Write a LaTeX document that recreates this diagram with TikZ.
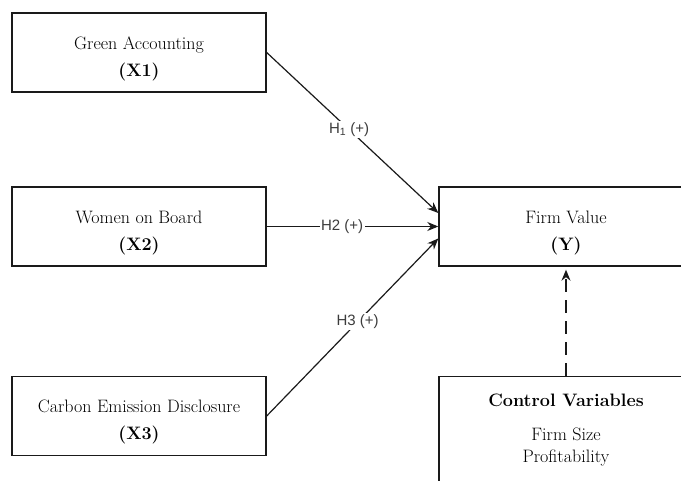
\documentclass[tikz,border=0pt]{standalone}
\usepackage{fontspec}
\newfontfamily\labfont{Liberation Sans}
\usetikzlibrary{arrows.meta}
\definecolor{ink}{HTML}{1A1A1A}
\newcommand{\topstrut}{\rule{0pt}{25pt}}
\begin{document}
\begin{tikzpicture}[x=1pt,y=-1pt,
  varbox/.style={draw=ink, line width=1.4pt, minimum width=254pt, minimum height=79pt,
    align=center, inner sep=0pt, text=black, font=\fontsize{18}{27}\selectfont},
  hyp/.style={draw=ink, line width=1.2pt, -{Stealth[length=11pt,width=9pt]}},
  hlab/.style={fill=white, inner sep=1.5pt, text=ink!85, font=\labfont\fontsize{15}{17}\selectfont}
]
\useasboundingbox (0,0) rectangle (681,481);
\clip (0,0) rectangle (681,481);
\node[varbox] (ga) at (139,52.5) {\topstrut Green Accounting\\\textbf{(X1)}};
\node[varbox] (wb) at (139,226.5) {\topstrut Women on Board\\\textbf{(X2)}};
\node[varbox] (ced) at (139,416) {\topstrut Carbon Emission Disclosure\\\textbf{(X3)}};
\node[varbox] (fv) at (566,226.5) {\topstrut Firm Value\\\textbf{(Y)}};
\node[varbox, anchor=north, minimum height=107pt, font=\fontsize{18}{22}\selectfont] (cv) at (566,376)
  {\textbf{Control Variables}\\[12pt]Firm Size\\ Profitability};
\draw[hyp] (ga.east) -- node[hlab, pos=0.48] {H\textsubscript{1} (+)} ([yshift=13.5pt]fv.west);
\draw[hyp] (wb.east) -- node[hlab, pos=0.44] {H2 (+)} (fv.west);
\draw[hyp] (ced.east) -- node[hlab, pos=0.53] {H3 (+)} ([yshift=-12pt]fv.west);
\draw[draw=ink, line width=1.2pt, dash pattern=on 13pt off 8pt, -{Stealth[length=11pt,width=9pt]}]
  (cv.north) -- ([yshift=-3pt]fv.south);
\end{tikzpicture}
\end{document}
